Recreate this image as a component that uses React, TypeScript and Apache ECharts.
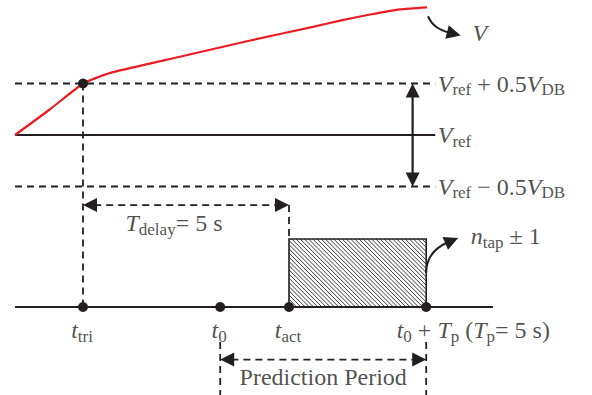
import React, { useEffect, useRef } from 'react';
import * as echarts from 'echarts';

const FONT = '"Liberation Serif", "Times New Roman", serif';
const INK = '#231f20';
const RED = '#ed1c24';

// ---- time axis (seconds, relative to t_tri) ----
const T_TRI = 0;
const T_ZERO = 3.33;
const T_DELAY = 5;
const T_P = 5;
const timeValues = [T_TRI, T_ZERO, T_TRI + T_DELAY, T_ZERO + T_P];
const timeLabels = [
  '{i|t}{s|tri}',
  '{i|t}{s|0}',
  '{i|t}{s|act}',
  '{i|t}{s|0}{op|+}{i|T}{s|p}{r| (}{i|T}{s|p}{r|= 5 s)}',
];
const timelineSpan = [-1.65, 9.95];

// ---- voltage levels (in units of V_DB, relative to V_ref) ----
const levelValues = [0.5, 0, -0.5];
const levelDashed = [true, false, true];
const levelLabels = [
  '{i|V}{s|ref}{op|+}{r|0.5}{i|V}{s|DB}',
  '{i|V}{s|ref}',
  '{i|V}{s|ref}{op|−}{r|0.5}{i|V}{s|DB}',
];
const levelSpan = [-1.65, 8.55];
const bandArrowT = 8.0;

// ---- voltage curve V(t) ----
const curveT = [-1.65, -0.8, 0, 0.36, 0.73, 2.35, 3.98, 5.58, 6.24, 6.97, 7.69, 8.35];
const curveV = [0, 0.25, 0.5, 0.56, 0.61, 0.76, 0.91, 1.05, 1.11, 1.17, 1.22, 1.24];

// ---- diagram rows below the voltage plot ----
const delayRowY = -0.68;
const tapTopY = -1.01;
const timelineY = -1.67;
const predRowY = -2.18;
const predGuide = [-2.01, -2.6];

const LABEL_V = '{i|V}';
const LABEL_DELAY = '{i|T}{s|delay}{r|= 5 s}';
const LABEL_TAP = '{i|n}{s|tap}{op|±}{r|1}';
const LABEL_PRED = '{r|Prediction Period}';

const rich = {
  i: { fontFamily: FONT, fontStyle: 'italic', fontSize: 24, lineHeight: 29, color: INK },
  r: { fontFamily: FONT, fontSize: 24, lineHeight: 29, color: INK },
  op: { fontFamily: FONT, fontSize: 24, lineHeight: 29, color: INK, padding: [0, 6, 0, 6] },
  s: { fontFamily: FONT, fontSize: 17, lineHeight: 17, verticalAlign: 'bottom', color: INK },
};

const DASH = [7, 5];

function lineSeries(data: number[][], dashed: boolean, color = INK, width = 2) {
  return {
    type: 'line',
    data,
    symbol: 'none',
    silent: true,
    clip: false,
    z: 2,
    lineStyle: { color, width, type: dashed ? DASH : 'solid', cap: 'butt' },
  };
}

function head(tip: number[], ux: number, uy: number, L = 14, W = 7) {
  const bx = tip[0] - ux * L;
  const by = tip[1] - uy * L;
  return {
    type: 'polygon',
    shape: {
      points: [
        [tip[0], tip[1]],
        [bx - uy * W, by + ux * W],
        [bx + uy * W, by - ux * W],
      ],
    },
    style: { fill: INK },
  };
}

export default function App() {
  const ref = useRef<HTMLDivElement>(null);

  useEffect(() => {
    if (!ref.current) return;
    document.body.style.margin = '0';
    const chart = echarts.init(ref.current, undefined, { renderer: 'svg' });

    const series: any[] = [];

    // levels
    levelValues.forEach((v, k) => {
      series.push(lineSeries([[levelSpan[0], v], [levelSpan[1], v]], levelDashed[k], INK, levelDashed[k] ? 1.8 : 2.2));
    });
    // vertical guides
    series.push(lineSeries([[T_TRI, levelValues[0]], [T_TRI, timelineY]], true, INK, 1.8));
    series.push(lineSeries([[T_TRI + T_DELAY, delayRowY], [T_TRI + T_DELAY, tapTopY]], true, INK, 1.8));
    series.push(lineSeries([[T_ZERO, predGuide[0]], [T_ZERO, predGuide[1]]], true, INK, 1.8));
    series.push(lineSeries([[T_ZERO + T_P, predGuide[0]], [T_ZERO + T_P, predGuide[1]]], true, INK, 1.8));
    // timeline
    series.push(lineSeries([[timelineSpan[0], timelineY], [timelineSpan[1], timelineY]], false, INK, 2.2));
    // voltage curve
    series.push({
      ...lineSeries(curveT.map((t, k) => [t, curveV[k]]), false, RED, 2.2),
      smooth: 0.2,
      z: 3,
    });

    // hatched tap-change block
    series.push({
      type: 'custom',
      coordinateSystem: 'cartesian2d',
      silent: true,
      z: 1,
      data: [[T_TRI + T_DELAY, T_ZERO + T_P, tapTopY, timelineY]],
      renderItem: (params: any, api: any) => {
        const p1 = api.coord([api.value(0), api.value(2)]);
        const p2 = api.coord([api.value(1), api.value(3)]);
        const left = p1[0], top = p1[1], right = p2[0], bottom = p2[1];
        const children: any[] = [];
        const step = 4.2;
        for (let c = top - right + step; c < bottom - left; c += step) {
          const x1 = Math.max(left, top - c);
          const x2 = Math.min(right, bottom - c);
          if (x2 <= x1) continue;
          children.push({
            type: 'line',
            shape: { x1, y1: x1 + c, x2, y2: x2 + c },
            style: { stroke: INK, lineWidth: 0.9 },
          });
        }
        children.push({
          type: 'rect',
          shape: { x: left, y: top, width: right - left, height: bottom - top },
          style: { fill: 'none', stroke: INK, lineWidth: 1.6 },
        });
        return { type: 'group', children };
      },
    });

    // straight arrows: [x1, y1, x2, y2, dashed]
    series.push({
      type: 'custom',
      coordinateSystem: 'cartesian2d',
      silent: true,
      z: 4,
      data: [
        [T_TRI, delayRowY, T_TRI + T_DELAY, delayRowY, 1],
        [T_ZERO, predRowY, T_ZERO + T_P, predRowY, 1],
        [bandArrowT, levelValues[0], bandArrowT, levelValues[2], 0],
      ],
      renderItem: (params: any, api: any) => {
        const a = api.coord([api.value(0), api.value(1)]);
        const b = api.coord([api.value(2), api.value(3)]);
        const dashed = api.value(4) === 1;
        const dx = b[0] - a[0], dy = b[1] - a[1];
        const len = Math.sqrt(dx * dx + dy * dy);
        const ux = dx / len, uy = dy / len;
        const L = 14;
        return {
          type: 'group',
          children: [
            {
              type: 'line',
              shape: { x1: a[0] + ux * L * 0.8, y1: a[1] + uy * L * 0.8, x2: b[0] - ux * L * 0.8, y2: b[1] - uy * L * 0.8 },
              style: { stroke: INK, lineWidth: dashed ? 1.8 : 2.2, lineDash: dashed ? DASH : null },
            },
            head(b, ux, uy),
            head(a, -ux, -uy),
          ],
        };
      },
    });

    // curved annotation arrows: [anchorX, anchorY, kind]
    series.push({
      type: 'custom',
      coordinateSystem: 'cartesian2d',
      silent: true,
      z: 4,
      data: [
        [curveT[curveT.length - 1], curveV[curveV.length - 1], 0],
        [T_ZERO + T_P, (tapTopY + timelineY) / 2, 1],
      ],
      renderItem: (params: any, api: any) => {
        const p = api.coord([api.value(0), api.value(1)]);
        const kind = api.value(2);
        let s: number[], c1: number[], c2: number[], e: number[];
        if (kind === 0) {
          s = [p[0] + 1, p[1] + 9];
          c1 = [s[0] + 4, s[1] + 9];
          c2 = [s[0] + 10, s[1] + 13.5];
          e = [s[0] + 20, s[1] + 16];
        } else {
          s = [p[0], p[1]];
          c1 = [s[0], s[1] - 14];
          c2 = [s[0] + 6, s[1] - 24];
          e = [s[0] + 20, s[1] - 30];
        }
        const dx = e[0] - c2[0], dy = e[1] - c2[1];
        const len = Math.sqrt(dx * dx + dy * dy);
        const ux = dx / len, uy = dy / len;
        const tip = [e[0] + ux * 13, e[1] + uy * 13];
        return {
          type: 'group',
          children: [
            {
              type: 'bezierCurve',
              shape: { x1: s[0], y1: s[1], cpx1: c1[0], cpy1: c1[1], cpx2: c2[0], cpy2: c2[1], x2: e[0] + ux * 2, y2: e[1] + uy * 2 },
              style: { stroke: INK, lineWidth: 2, fill: 'none' },
            },
            head(tip, ux, uy),
          ],
        };
      },
    });

    // event dots
    series.push({
      type: 'scatter',
      silent: true,
      z: 6,
      symbol: 'circle',
      symbolSize: 10,
      itemStyle: { color: INK, opacity: 1 },
      data: [...timeValues.map((t) => [t, timelineY]), [T_TRI, levelValues[0]]],
    });

    // text labels anchored on data points
    const labelItems: any[] = [
      ...levelValues.map((v, k) => ({
        name: levelLabels[k],
        value: [levelSpan[1], v],
        label: { position: 'right', offset: [2, 0] },
      })),
      ...timeValues.map((t, k) => ({
        name: timeLabels[k],
        value: [t, timelineY],
        label: k < 3 ? { position: 'inside', offset: [-1, 23] } : { position: 'right', offset: [-30, 23] },
      })),
      { name: LABEL_V, value: [curveT[curveT.length - 1], curveV[curveV.length - 1]], label: { position: 'right', offset: [45, 26] } },
      { name: LABEL_DELAY, value: [T_TRI + T_DELAY / 2, delayRowY], label: { position: 'inside', offset: [-12, 18] } },
      { name: LABEL_TAP, value: [T_ZERO + T_P, tapTopY], label: { position: 'right', offset: [44, -3] } },
      { name: LABEL_PRED, value: [T_ZERO + T_P / 2, predRowY], label: { position: 'inside', offset: [0, 17] } },
    ];
    series.push({
      type: 'scatter',
      silent: true,
      z: 7,
      symbol: 'circle',
      symbolSize: 1,
      itemStyle: { color: 'rgba(0,0,0,0)' },
      label: {
        show: true,
        distance: 0,
        formatter: (p: any) => p.name,
        rich,
      },
      data: labelItems,
    });

    chart.setOption({
      animation: false,
      backgroundColor: '#ffffff',
      grid: { left: 0.6, top: 1.1, width: 576.8, height: 391.4, containLabel: false, outerBoundsMode: 'none' },
      xAxis: { type: 'value', min: -2, max: 12, show: false },
      yAxis: { type: 'value', min: -2.5, max: 1.3, show: false },
      tooltip: { show: false },
      series,
    });

    return () => chart.dispose();
  }, []);

  return <div ref={ref} style={{ width: 592, height: 395, background: '#fff' }} />;
}
